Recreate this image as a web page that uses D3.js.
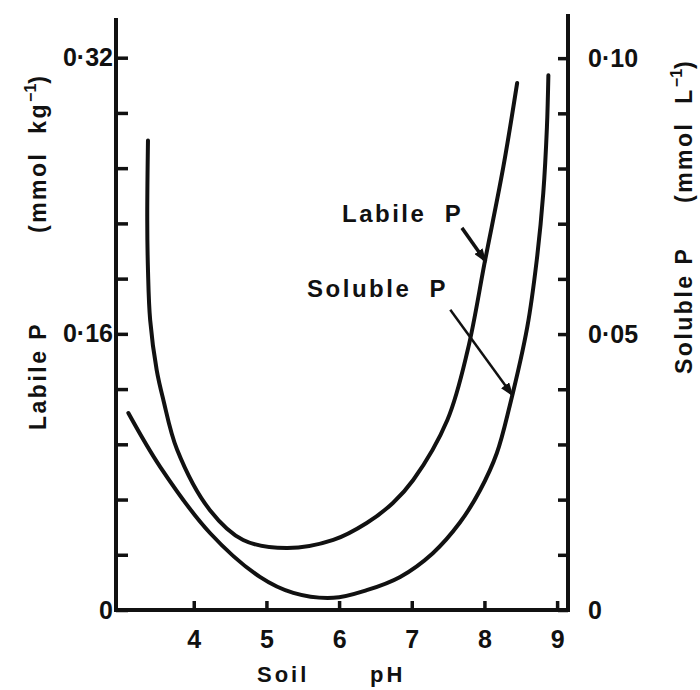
<!DOCTYPE html>
<html>
<head>
<meta charset="utf-8">
<script src="https://cdn.jsdelivr.net/npm/d3@7/dist/d3.min.js"></script>
<style>
  html, body { margin: 0; padding: 0; background: #fff; }
  svg text { font-family: "Liberation Sans", Arial, sans-serif; font-weight: bold; fill: #111; }
</style>
</head>
<body>
<script>
/* Labile and soluble P against soil pH (two y axes) */

// Labile P, mmol/kg (left axis)
var labilePH  = [3.37, 3.36, 3.37, 3.40, 3.49, 3.58, 3.77, 4.22, 4.68, 5.28, 5.92, 6.38, 6.74, 7.02, 7.49, 7.77, 8.01, 8.26, 8.45];
var labileVal = [0.272, 0.226, 0.197, 0.168, 0.139, 0.122, 0.093, 0.058, 0.0406, 0.0359, 0.0406, 0.0504, 0.0620, 0.0753, 0.1101, 0.1506, 0.2028, 0.2567, 0.3053];

// Soluble P, mmol/L (right axis)
var solublePH  = [3.10, 3.54, 4.22, 4.91, 5.37, 5.92, 6.38, 6.84, 7.29, 7.66, 7.94, 8.17, 8.35, 8.59, 8.72, 8.81, 8.86, 8.88];
var solubleVal = [0.0357, 0.0259, 0.0140, 0.0060, 0.0031, 0.0022, 0.0036, 0.0060, 0.0103, 0.0158, 0.0217, 0.0284, 0.0371, 0.0513, 0.0634, 0.0756, 0.0875, 0.0969];

// ticks
var phTicks = [4, 5, 6, 7, 8, 9];
var phLabels = ["4", "5", "6", "7", "8", "9"];
var leftTicks = [0, 0.032, 0.064, 0.096, 0.128, 0.16, 0.192, 0.224, 0.256, 0.288, 0.32];
var leftLabels = ["0", "", "", "", "", "0·16", "", "", "", "", "0·32"];
var rightTicks = [0, 0.01, 0.02, 0.03, 0.04, 0.05, 0.06, 0.07, 0.08, 0.09, 0.10];
var rightLabels = ["0", "", "", "", "", "0·05", "", "", "", "", "0·10"];

(function (d3) {
  "use strict";

  var width = 700, height = 690;
  var ink = "#111";

  var svg = d3.select("body").append("svg")
    .attr("width", width)
    .attr("height", height);

  /***** Scales *****/
  var x = d3.scaleLinear().domain([2.93, 9.15]).range([116, 568]);
  var yL = d3.scaleLinear().domain([0, 0.343]).range([610, 18]);
  var yR = d3.scaleLinear().domain([0, 0.108]).range([610, 14]);

  /***** Frame (left axis, bottom axis, right axis) *****/
  svg.append("path")
    .attr("d", "M" + x.range()[0] + "," + yL.range()[1] +
               "V" + yL.range()[0] +
               "H" + x.range()[1] +
               "V" + yR.range()[1])
    .attr("fill", "none")
    .attr("stroke", ink)
    .attr("stroke-width", 4)
    .attr("stroke-linejoin", "miter");

  function styleAxis(g) {
    g.select(".domain").remove();
    g.attr("font-family", null).attr("font-size", 25);
    g.selectAll(".tick line").attr("stroke", ink).attr("stroke-width", 3.5);
  }

  var leftAxis = d3.axisLeft(yL)
    .tickValues(leftTicks)
    .tickFormat(function (d, i) { return leftLabels[i]; })
    .tickSize(-12)
    .tickPadding(3);

  var rightAxis = d3.axisRight(yR)
    .tickValues(rightTicks)
    .tickFormat(function (d, i) { return rightLabels[i]; })
    .tickSize(-10)
    .tickPadding(20);

  var bottomAxis = d3.axisBottom(x)
    .tickValues(phTicks)
    .tickFormat(function (d, i) { return phLabels[i]; })
    .tickSize(-9)
    .tickPadding(20);

  svg.append("g")
    .attr("transform", "translate(" + x.range()[0] + ",0)")
    .call(leftAxis)
    .call(styleAxis);

  svg.append("g")
    .attr("transform", "translate(" + x.range()[1] + ",0)")
    .call(rightAxis)
    .call(styleAxis);

  svg.append("g")
    .attr("transform", "translate(0," + yL.range()[0] + ")")
    .call(bottomAxis)
    .call(styleAxis);

  /***** Curves *****/
  var line = d3.line().curve(d3.curveCatmullRom.alpha(0.5));

  var labilePts = labilePH.map(function (p, i) { return [x(p), yL(labileVal[i])]; });
  var solublePts = solublePH.map(function (p, i) { return [x(p), yR(solubleVal[i])]; });

  [labilePts, solublePts].forEach(function (pts) {
    svg.append("path")
      .attr("d", line(pts))
      .attr("fill", "none")
      .attr("stroke", ink)
      .attr("stroke-width", 4)
      .attr("stroke-linecap", "round");
  });

  /***** Annotations (placed in pH / left-axis units) *****/
  svg.append("defs").append("marker")
    .attr("id", "head")
    .attr("viewBox", "0 0 14 10")
    .attr("refX", 13)
    .attr("refY", 5)
    .attr("markerWidth", 14)
    .attr("markerHeight", 10)
    .attr("markerUnits", "userSpaceOnUse")
    .attr("orient", "auto")
    .append("path")
    .attr("d", "M0,0L14,5L0,10Z")
    .attr("fill", ink);

  var notes = [
    { text: "Labile  P", ph: 6.04, val: 0.2249, fromPh: 7.69, fromVal: 0.2214, toPh: 8.02, toVal: 0.2017, sw: 3.5 },
    { text: "Soluble  P", ph: 5.56, val: 0.1814, fromPh: 7.53, fromVal: 0.1739, toPh: 8.39, toVal: 0.1241, sw: 2.5 }
  ];

  notes.forEach(function (n) {
    svg.append("text")
      .attr("x", x(n.ph))
      .attr("y", yL(n.val))
      .attr("font-size", 24)
      .attr("letter-spacing", 2.5)
      .style("white-space", "pre")
      .text(n.text);

    svg.append("line")
      .attr("x1", x(n.fromPh)).attr("y1", yL(n.fromVal))
      .attr("x2", x(n.toPh)).attr("y2", yL(n.toVal))
      .attr("stroke", ink)
      .attr("stroke-width", n.sw)
      .attr("marker-end", "url(#head)");
  });

  /***** Axis titles *****/
  svg.append("text").attr("x", 257).attr("y", 682)
    .attr("font-size", 22).attr("letter-spacing", 3).text("Soil");
  svg.append("text").attr("x", 370).attr("y", 682)
    .attr("font-size", 22).attr("letter-spacing", 3).text("pH");

  function vertTitle(bx, y1, t1, y2, t2) {
    svg.append("text")
      .attr("transform", "translate(" + bx + "," + y1 + ") rotate(-90)")
      .attr("font-size", 23).attr("letter-spacing", 2.5)
      .style("white-space", "pre")
      .text(t1);
    var t = svg.append("text")
      .attr("transform", "translate(" + bx + "," + y2 + ") rotate(-90)")
      .attr("font-size", 23).attr("letter-spacing", 2.5)
      .style("white-space", "pre");
    t.append("tspan").text(t2);
    t.append("tspan").attr("font-size", 16).attr("dy", -10).attr("letter-spacing", 0).text("−1");
    t.append("tspan").attr("dy", 10).text(")");
  }

  vertTitle(46, 430, "Labile P", 233, "(mmol  kg");
  vertTitle(692, 374, "Soluble P", 203, "(mmol  L");

})(d3);
</script>
</body>
</html>
